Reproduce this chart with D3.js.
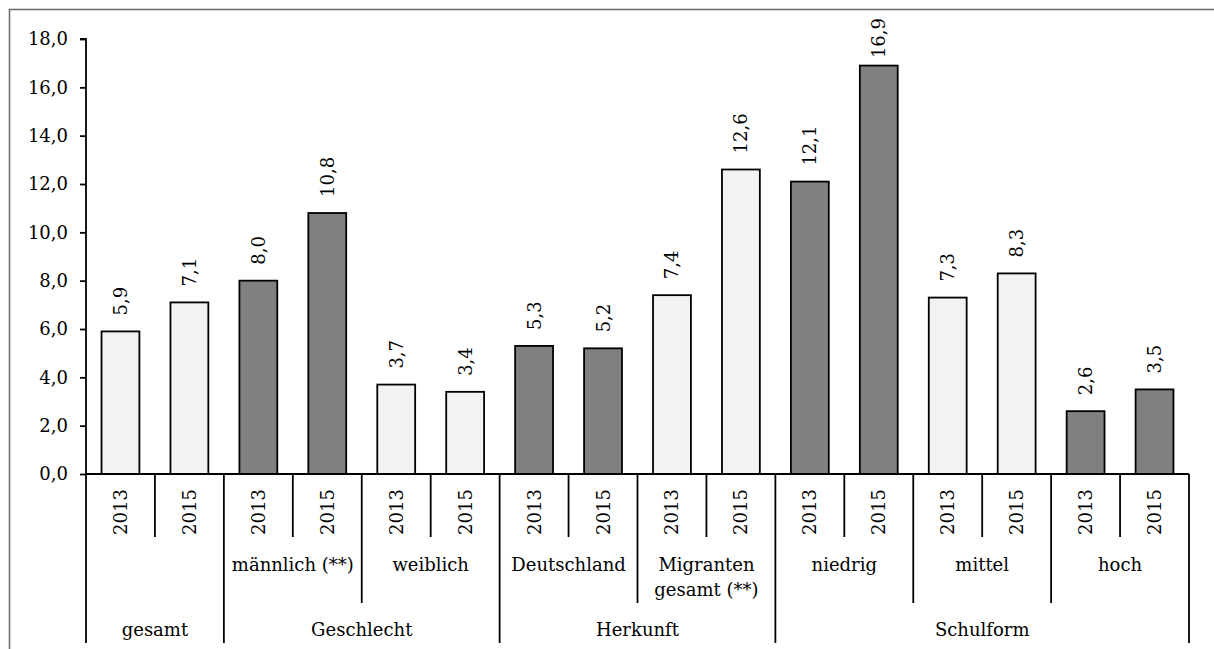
<!DOCTYPE html>
<html>
<head>
<meta charset="utf-8">
<script src="https://cdn.jsdelivr.net/npm/d3@7"></script>
<style>
  html, body { margin: 0; padding: 0; background: #fff; }
  svg { display: block; }
  text { font-family: "DejaVu Serif", "Liberation Serif", serif; fill: #000; }
</style>
</head>
<body>
<svg id="chart" width="1214" height="649"></svg>
<script>
// Values per bar, in order of the category axis
const years = ["2013", "2015", "2013", "2015", "2013", "2015", "2013", "2015",
               "2013", "2015", "2013", "2015", "2013", "2015", "2013", "2015"];
const values = [5.9, 7.1, 8.0, 10.8, 3.7, 3.4, 5.3, 5.2, 7.4, 12.6, 12.1, 16.9, 7.3, 8.3, 2.6, 3.5];
// fill tone per bar: "d" = dark, "l" = light
const tones = ["l", "l", "d", "d", "l", "l", "d", "d", "l", "l", "d", "d", "l", "l", "d", "d"];

// second level of the category axis: label and number of bars it spans
const subgroups = [
  { label: [""], span: 2 },
  { label: ["männlich (**)"], span: 2 },
  { label: ["weiblich"], span: 2 },
  { label: ["Deutschland"], span: 2 },
  { label: ["Migranten", "gesamt (**)"], span: 2 },
  { label: ["niedrig"], span: 2 },
  { label: ["mittel"], span: 2 },
  { label: ["hoch"], span: 2 }
];
// third level of the category axis
const groups = [
  { label: "gesamt", span: 2 },
  { label: "Geschlecht", span: 4 },
  { label: "Herkunft", span: 4 },
  { label: "Schulform", span: 6 }
];
const yTicks = [0, 2, 4, 6, 8, 10, 12, 14, 16, 18];

const fmt = v => d3.format(".1f")(v).replace(".", ",");
const fillFor = { d: "#808080", l: "#f2f2f2" };

const svg = d3.select("#chart");

// outer frame
svg.append("rect")
  .attr("x", 9.5).attr("y", 9.5)
  .attr("width", 1220).attr("height", 660)
  .attr("fill", "none").attr("stroke", "#6e6e6e").attr("stroke-width", 1.6);

const plotLeft = 86, plotRight = 1189, plotTop = 39, base = 474;
const fontSize = 18;

const x = d3.scaleBand().domain(d3.range(values.length)).range([plotLeft, plotRight]).padding(0);
const y = d3.scaleLinear().domain([0, 18]).range([base, plotTop]);
const barW = x.bandwidth() / 1.82;

// y axis
const yAxis = d3.axisLeft(y).tickValues(yTicks).tickFormat(fmt).tickSize(6).tickPadding(12);
const yg = svg.append("g").attr("transform", `translate(${plotLeft},0)`).call(yAxis);
yg.select(".domain").attr("stroke", "#000").attr("stroke-width", 1.8)
  .attr("d", `M-6,${plotTop}H0V${base}`);
yg.selectAll(".tick line").attr("stroke", "#000").attr("stroke-width", 1.8);
yg.selectAll(".tick text")
  .style("font-family", '"DejaVu Serif", serif')
  .style("font-size", fontSize + "px").attr("fill", "#000");

// bars
svg.append("g").selectAll("rect").data(values).join("rect")
  .attr("x", (d, i) => x(i) + (x.bandwidth() - barW) / 2)
  .attr("y", d => y(d))
  .attr("width", barW)
  .attr("height", d => y(0) - y(d))
  .attr("fill", (d, i) => fillFor[tones[i]])
  .attr("stroke", "#000").attr("stroke-width", 1.8);

// value labels, rotated, above each bar; kept below the top of the frame
const labelTopLimit = 18;
svg.append("g").selectAll("text").data(values).join("text")
  .attr("text-anchor", "start")
  .style("font-size", fontSize + "px")
  .text(d => fmt(d))
  .attr("transform", function (d, i) {
    const len = this.getComputedTextLength();
    const start = Math.max(y(d) - 16, labelTopLimit + len);
    return `translate(${x(i) + x.bandwidth() / 2 + 6.5},${start}) rotate(-90)`;
  });

// category axis baseline
svg.append("line")
  .attr("x1", plotLeft).attr("x2", plotRight).attr("y1", base).attr("y2", base)
  .attr("stroke", "#000").attr("stroke-width", 1.8);

// separators: depth depends on the level of the boundary
const groupBounds = new Set([0]);
{ let c = 0; groups.forEach(g => { c += g.span; groupBounds.add(c); }); }
const subBounds = new Set([0]);
{ let c = 0; subgroups.forEach(g => { c += g.span; subBounds.add(c); }); }
const edge = i => (i < values.length ? x(i) : plotRight);
const bounds = d3.range(values.length + 1);
svg.append("g").selectAll("line").data(bounds).join("line")
  .attr("x1", edge).attr("x2", edge)
  .attr("y1", base)
  .attr("y2", i => groupBounds.has(i) ? 643 : subBounds.has(i) ? 603 : 537)
  .attr("stroke", "#000").attr("stroke-width", 1.8);

// first level: years, rotated
svg.append("g").selectAll("text").data(years).join("text")
  .attr("transform", (d, i) => `translate(${x(i) + x.bandwidth() / 2 + 6.5},512) rotate(-90)`)
  .attr("text-anchor", "middle")
  .style("font-size", fontSize + "px")
  .text(d => d);

// second level
{
  let c = 0;
  subgroups.forEach(g => {
    const cx = (edge(c) + edge(c + g.span)) / 2;
    const t = svg.append("text")
      .attr("x", cx).attr("y", 571)
      .attr("text-anchor", "middle")
      .style("font-size", fontSize + "px");
    g.label.forEach((line, k) => {
      t.append("tspan").attr("x", cx).attr("dy", k === 0 ? 0 : 25).text(line);
    });
    c += g.span;
  });
}

// third level
{
  let c = 0;
  groups.forEach(g => {
    const cx = (edge(c) + edge(c + g.span)) / 2;
    svg.append("text")
      .attr("x", cx).attr("y", 636)
      .attr("text-anchor", "middle")
      .style("font-size", fontSize + "px")
      .text(g.label);
    c += g.span;
  });
}
</script>
</body>
</html>
